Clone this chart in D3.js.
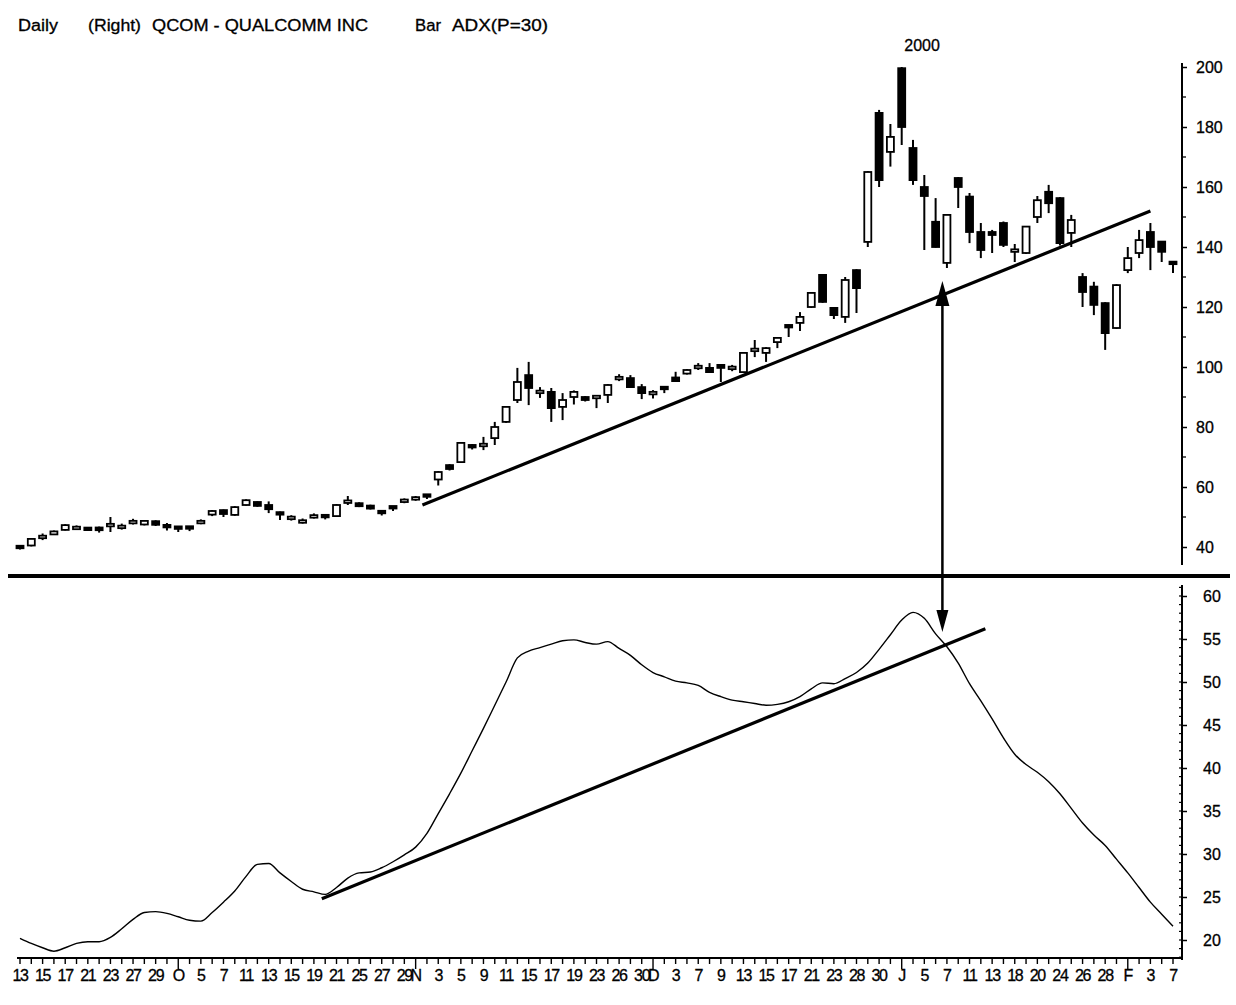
<!DOCTYPE html>
<html><head><meta charset="utf-8">
<script src="https://cdn.jsdelivr.net/npm/d3@7/dist/d3.min.js"></script>
<style>
html,body{margin:0;padding:0;background:#fff;}
svg{display:block;font-family:"Liberation Sans",Arial,sans-serif;}
</style></head>
<body>
<svg id="chart" width="1236" height="1005"></svg>
<script>
// ---------- DATA ----------
const openP = [40.2,40.5,43.2,44.2,45.7,46.2,46.3,46.5,47.0,46.5,48.1,47.5,48.6,47.1,46.6,46.6,48.1,50.8,52.3,50.7,
54.0,55.0,54.0,51.6,49.5,48.3,50.0,50.4,50.3,54.9,54.6,53.8,51.8,53.4,55.2,56.0,57.3,62.5,67.3,68.3,
74.0,73.8,76.3,81.7,89.0,97.3,91.5,91.7,86.7,90.0,90.0,89.8,90.7,96.1,96.3,93.3,91.1,93.3,96.5,97.8,
99.8,99.7,100.7,99.5,98.3,105.5,104.7,108.3,113.8,114.7,120.0,130.7,119.7,116.7,132.3,141.7,184.7,171.7,199.6,173.0,
160.0,148.4,134.7,163.0,156.8,145.0,145.0,148.0,138.6,138.0,150.0,158.4,156.3,144.7,130.0,126.8,121.3,113.0,132.3,138.0,
145.0,141.8,134.9];
const highP = [40.5,43.0,44.5,45.5,47.6,47.2,46.5,46.8,50.0,47.8,49.4,49.0,48.9,48.0,46.8,46.8,49.2,52.3,52.5,53.6,
55.9,55.2,55.2,51.8,50.6,49.5,51.2,50.6,54.3,57.0,54.9,54.1,52.0,53.6,56.2,57.0,57.5,65.3,67.6,75.0,
74.3,76.7,81.7,87.0,99.7,101.7,93.3,93.0,91.3,92.2,90.3,90.4,94.3,97.6,97.3,94.3,92.3,93.5,98.4,99.3,
101.3,101.3,101.0,100.7,105.0,109.0,106.6,110.0,114.1,118.3,125.0,131.0,120.0,130.0,132.6,165.3,185.7,181.0,200.0,175.7,
164.0,156.3,151.0,163.3,158.0,148.0,145.7,148.5,141.0,147.0,157.0,160.7,156.6,150.7,131.3,128.4,121.6,127.6,140.0,145.7,
148.0,142.0,135.1];
const lowP = [39.2,40.2,42.3,44.0,45.5,45.8,45.6,44.8,45.0,45.8,47.5,47.2,47.0,45.5,45.0,45.3,47.6,50.3,50.0,50.4,
53.8,53.4,51.3,49.0,48.8,47.8,49.5,49.2,50.0,54.0,53.3,52.5,50.5,52.0,54.6,55.4,56.0,60.5,65.5,68.0,
72.5,72.3,74.0,81.4,88.0,87.3,89.7,81.7,82.3,87.5,88.5,86.3,88.0,95.3,93.0,89.3,89.5,91.3,95.0,97.5,
99.0,98.0,95.0,98.6,98.0,103.3,101.7,106.3,110.0,112.0,119.7,121.4,116.0,114.7,118.0,140.0,160.0,166.8,174.0,160.7,
139.0,139.8,133.0,153.0,141.3,136.3,138.0,140.0,135.0,137.7,148.0,151.3,140.5,140.0,120.0,117.3,105.7,112.7,131.3,136.3,
132.3,135.0,131.3];
const closeP = [39.8,42.7,43.5,45.2,47.3,46.5,45.8,45.6,47.6,46.9,48.5,48.7,47.4,46.8,46.3,46.4,48.5,52.0,51.0,53.3,
55.6,53.7,52.6,50.8,49.9,48.7,50.4,50.2,54.0,55.3,53.6,52.8,51.5,53.1,55.6,56.4,57.0,65.0,66.0,74.7,
73.2,74.2,80.0,86.7,95.0,93.0,91.9,86.3,89.0,91.7,89.0,90.2,94.0,96.5,93.3,91.3,91.5,92.7,95.3,99.0,
100.2,98.3,99.7,99.9,104.7,105.9,106.3,109.7,113.4,116.7,124.7,121.7,117.3,129.0,126.3,165.0,162.3,176.7,180.0,162.3,
157.0,140.0,150.7,160.0,145.0,139.0,144.0,140.7,139.0,146.8,155.6,154.6,141.3,149.0,125.0,120.7,111.3,127.3,136.3,142.3,
140.0,138.4,134.5];
const adx = [20.2,19.6,19.1,18.7,19.1,19.6,19.8,19.8,20.3,21.3,22.4,23.2,23.3,23.1,22.7,22.3,22.2,23.2,24.4,25.7,
27.4,28.8,28.9,27.8,26.8,25.9,25.6,25.3,26.1,27.2,27.8,27.9,28.4,29.1,29.9,30.8,32.4,34.7,37.0,39.4,
42.0,44.6,47.3,50.0,52.8,53.6,54.0,54.4,54.8,54.9,54.6,54.4,54.7,53.9,53.1,52.0,51.1,50.6,50.1,49.9,
49.6,48.8,48.3,47.9,47.7,47.5,47.3,47.4,47.7,48.3,49.2,49.9,49.8,50.4,51.1,52.2,53.8,55.5,57.2,58.1,
57.4,55.6,54.1,52.2,49.8,47.8,45.7,43.5,41.6,40.4,39.5,38.4,37.0,35.3,33.6,32.2,31.0,29.4,27.8,26.1,
24.4,23.0,21.6];
const xLabels = ["13","15","17","21","23","27","29","O","5","7","11","13","15","19","21","25","27","29","N","3",
"5","9","11","15","17","19","23","26","30","D","3","7","9","13","15","17","21","23","28","30",
"J","5","7","11","13","18","20","24","26","28","F","3","7"];
const xLabelIdx = [0,2,4,6,8,10,12,14,16,18,20,22,24,26,28,30,32,34,35,37,
39,41,43,45,47,49,51,53,55,56,58,60,62,64,66,68,70,72,74,76,
78,80,82,84,86,88,90,92,94,96,98,100,102];
const monthStartIdx = [14,35,56,78,98];
const priceTicks = [40,60,80,100,120,140,160,180,200];
const adxTicks = [20,25,30,35,40,45,50,55,60];
const headerTexts = ["Daily","(Right)","QCOM - QUALCOMM INC","Bar","ADX(P=30)"];
const yearLabel = "2000";
const priceTrend = [[35.6,54.0],[100,152.0]];
const adxTrend = [[26.7,24.8],[85.4,56.2]];
const arrowIdx = 81.6, arrowPriceTip = 128.7, arrowAdxTip = 55.8;

// ---------- DRAW ----------
const svg = d3.select("#chart");
svg.append("rect").attr("width",1236).attr("height",1005).attr("fill","#fff");
const n = openP.length;
const x = d3.scaleLinear().domain([0, n-1]).range([20, 1173]);
const yP = d3.scaleLinear().domain([40,200]).range([547,67]);
const yA = d3.scaleLinear().domain([20,60]).range([940,596]);
const font = "Liberation Sans, Arial, sans-serif";

// header
const hx = [18,88,152,415,452];
const hw = [40,53,216,26,96];
svg.selectAll("text.hdr").data(headerTexts).join("text").attr("class","hdr")
  .attr("x",(d,i)=>hx[i]).attr("y",31).attr("font-size",16)
  .attr("textLength",(d,i)=>hw[i]).attr("lengthAdjust","spacingAndGlyphs")
  .attr("stroke","#000").attr("stroke-width",0.3).text(d=>d);
svg.append("text").attr("x",x(79.8)).attr("y",51).attr("text-anchor","middle")
  .attr("font-size",16).attr("stroke","#000").attr("stroke-width",0.3).text(yearLabel);

// candles
const candles = svg.append("g");
const bw = 7;
for (let i=0;i<n;i++){
  const o=openP[i],h=highP[i],l=lowP[i],c=closeP[i];
  const cx = x(i);
  candles.append("line").attr("x1",cx).attr("x2",cx).attr("y1",yP(h)).attr("y2",yP(l))
    .attr("stroke","#000").attr("stroke-width",2);
  const top = yP(Math.max(o,c)), bot = yP(Math.min(o,c));
  const hgt = Math.max(bot-top, 2.5);
  candles.append("rect").attr("x",cx-bw/2).attr("y",(top+bot)/2-hgt/2).attr("width",bw).attr("height",hgt)
    .attr("fill", c>=o ? "#fff" : "#000").attr("stroke","#000").attr("stroke-width",1.8);
}

// price trendline
svg.append("line").attr("x1",x(priceTrend[0][0])).attr("y1",yP(priceTrend[0][1]))
  .attr("x2",x(priceTrend[1][0])).attr("y2",yP(priceTrend[1][1]))
  .attr("stroke","#000").attr("stroke-width",3.2);

// right price axis
const axP = svg.append("g").attr("transform","translate(1182,0)");
axP.append("line").attr("x1",0).attr("x2",0).attr("y1",63).attr("y2",565).attr("stroke","#000").attr("stroke-width",2);
axP.call(g=>{
  const a = d3.axisRight(yP).tickValues(priceTicks).tickSize(5).tickPadding(9).tickFormat(d3.format("d"));
  g.call(a);
  g.select(".domain").remove();
  g.selectAll("text").attr("font-size",16).attr("font-family",font).attr("fill","#000")
    .attr("stroke","#000").attr("stroke-width",0.3);
  g.selectAll(".tick line").attr("stroke","#000").attr("stroke-width",1.5);
});
axP.selectAll("line.minor").data(d3.range(50,200,20)).join("line").attr("class","minor")
  .attr("x1",0).attr("x2",4).attr("y1",d=>yP(d)).attr("y2",d=>yP(d)).attr("stroke","#000").attr("stroke-width",1.3);

// separator
svg.append("line").attr("x1",8).attr("x2",1230).attr("y1",576).attr("y2",576).attr("stroke","#000").attr("stroke-width",4);

// ADX line
svg.append("path").datum(adx).attr("fill","none").attr("stroke","#000").attr("stroke-width",1.4)
  .attr("d", d3.line().x((d,i)=>x(i)).y(d=>yA(d)).curve(d3.curveMonotoneX));

// ADX trendline
svg.append("line").attr("x1",x(adxTrend[0][0])).attr("y1",yA(adxTrend[0][1]))
  .attr("x2",x(adxTrend[1][0])).attr("y2",yA(adxTrend[1][1]))
  .attr("stroke","#000").attr("stroke-width",3.2);

// double arrow
const ax = x(arrowIdx), at = yP(arrowPriceTip), ab = yA(arrowAdxTip);
svg.append("line").attr("x1",ax).attr("x2",ax).attr("y1",at+10).attr("y2",ab-10).attr("stroke","#000").attr("stroke-width",2.5);
svg.append("path").attr("d",`M${ax},${at} L${ax-7},${at+25} L${ax+7},${at+25} Z`).attr("fill","#000");
svg.append("path").attr("d",`M${ax},${ab} L${ax-6},${ab-22} L${ax+6},${ab-22} Z`).attr("fill","#000");

// right ADX axis
const axA = svg.append("g").attr("transform","translate(1182,0)");
axA.append("line").attr("x1",0).attr("x2",0).attr("y1",585).attr("y2",960).attr("stroke","#000").attr("stroke-width",2);
axA.call(g=>{
  const a = d3.axisRight(yA).tickValues(adxTicks).tickSize(5).tickPadding(16).tickFormat(d3.format("d"));
  g.call(a);
  g.select(".domain").remove();
  g.selectAll("text").attr("font-size",16).attr("font-family",font).attr("fill","#000")
    .attr("stroke","#000").attr("stroke-width",0.3);
  g.selectAll(".tick line").attr("stroke","#000").attr("stroke-width",1.5);
});
axA.selectAll("line.minor").data(d3.range(18,62,1)).join("line").attr("class","minor")
  .attr("x1",-3).attr("x2",0).attr("y1",d=>yA(d)).attr("y2",d=>yA(d)).attr("stroke","#000").attr("stroke-width",1.2);

// bottom x axis
const axX = svg.append("g").attr("transform","translate(0,958)");
axX.append("line").attr("x1",17).attr("x2",1182).attr("y1",0).attr("y2",0).attr("stroke","#000").attr("stroke-width",2);
axX.selectAll("line.tk").data(d3.range(0,n)).join("line").attr("class","tk")
  .attr("x1",d=>x(d)).attr("x2",d=>x(d)).attr("y1",0)
  .attr("y2",d=>monthStartIdx.includes(d)?11:6).attr("stroke","#000").attr("stroke-width",1.4);
axX.selectAll("text").data(xLabels).join("text")
  .attr("x",(d,i)=>x(xLabelIdx[i])).attr("y",23).attr("text-anchor","middle")
  .attr("font-size",16).attr("letter-spacing",-1.3)
  .attr("stroke","#000").attr("stroke-width",0.3).text(d=>d);
</script>
</body></html>
